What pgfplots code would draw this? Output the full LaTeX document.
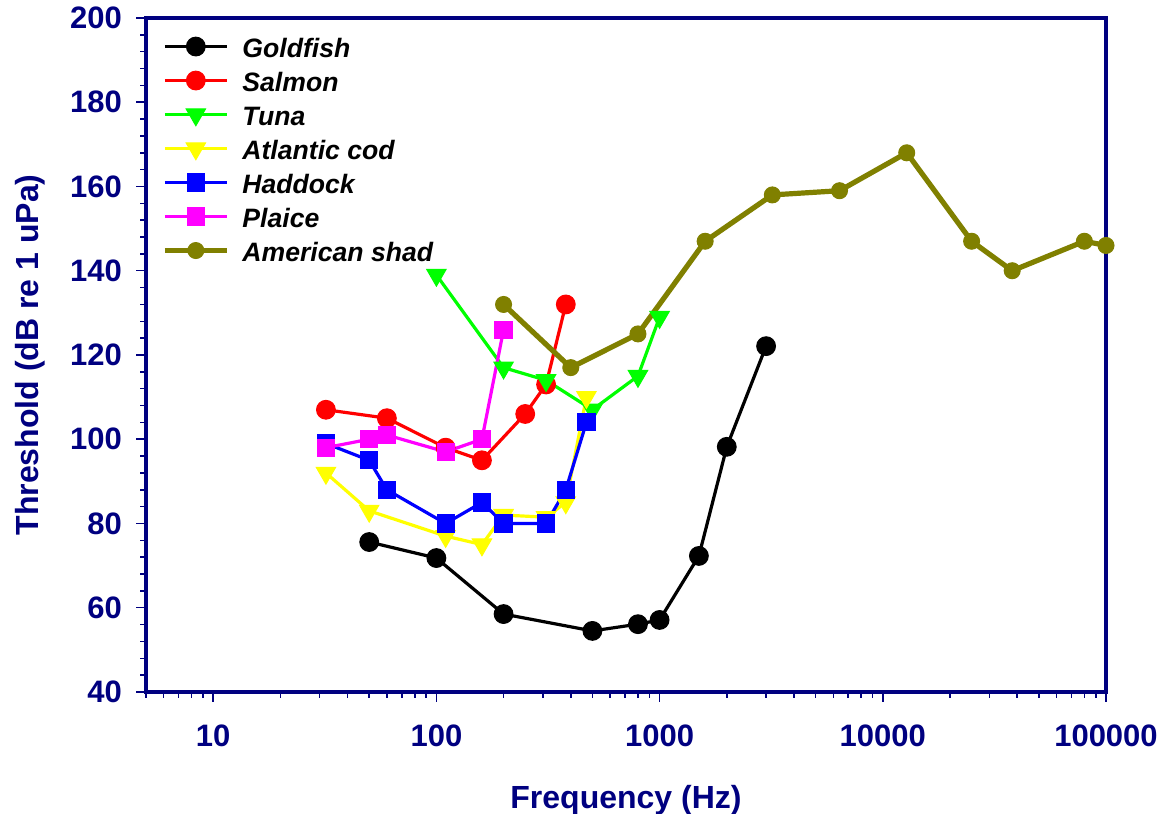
\documentclass[border=0pt]{standalone}
\usepackage{pgfplots}
\pgfplotsset{compat=1.18}
\usepackage{fontspec}
\setmainfont{Liberation Sans}
\definecolor{navyc}{RGB}{0,0,128}
\definecolor{olivec}{RGB}{128,128,0}
\definecolor{limec}{RGB}{0,255,0}
\definecolor{yelc}{RGB}{255,255,0}
\definecolor{magc}{RGB}{255,0,255}
\definecolor{bluec}{RGB}{0,0,255}
\definecolor{redc}{RGB}{255,0,0}
\begin{document}
\begin{tikzpicture}
\useasboundingbox (0,0) rectangle (584.5pt,407pt);
\begin{axis}[
  at={(73pt,61pt)}, anchor=south west,
  scale only axis, width=480pt, height=337pt,
  xmode=log, log basis x=10,
  xmin=5, xmax=100000, ymin=40, ymax=200,
  clip=false,
  xtick={10,100,1000,10000,100000},
  xticklabels={10,100,1000,10000,100000},
  minor xtick={5,6,7,8,9,20,30,40,50,60,70,80,90,200,300,400,500,600,700,800,900,2000,3000,4000,5000,6000,7000,8000,9000,20000,30000,40000,50000,60000,70000,80000,90000},
  ytick={40,60,...,200},
  minor y tick num=4,
  tick align=outside,
  xtick pos=bottom, ytick pos=left,
  major tick length=5pt, minor tick length=2.8pt,
  every tick/.style={navyc, line width=0.75pt},
  axis line style={draw=navyc, line width=2pt},
  /pgf/number format/assume math mode=true,
  ticklabel style={font=\fontsize{15.5}{18}\selectfont\bfseries, text=navyc},
  xticklabel style={yshift=-8pt},
  yticklabel style={xshift=-3.5pt},
  xlabel={Frequency (Hz)},
  ylabel={Threshold (dB re 1 uPa)},
  label style={font=\fontsize{16}{19}\selectfont\bfseries, text=navyc},
  xlabel style={at={(axis description cs:0.5,-0.16)}, anchor=center},
  ylabel style={at={(axis description cs:-0.121,0.5)}, anchor=center, rotate=0},
  legend style={at={(axis description cs:0.0165,0.982)}, anchor=north west,
    draw=none, fill=none, inner sep=0pt, row sep=1pt, column sep=6.5pt,
    font=\fontsize{13.3}{15}\selectfont\bfseries\itshape,
    nodes={inner sep=0pt, text height=13.5pt, text depth=2.5pt}},
  legend cell align=left,
  legend image code/.code={\draw[mark repeat=2,mark phase=2] plot coordinates {(0pt,0pt) (15.5pt,0pt) (31pt,0pt)};},
]
\addplot[black, line width=1.6pt, mark=*, mark size=4.7pt, mark options={solid, line width=0.5pt, fill=black}]
 coordinates {(50,75.6) (100,71.8) (200,58.5) (500,54.5) (800,56.1) (1000,57.1) (1500,72.3) (2000,98.2) (3000,122.1)};
\addlegendentry{Goldfish}
\addplot[redc, line width=1.6pt, mark=*, mark size=4.7pt, mark options={solid, line width=0.5pt, fill=redc}]
 coordinates {(32,107) (60,105) (110,98) (160,95) (250,106) (310,113) (380,132)};
\addlegendentry{Salmon}
\addplot[limec, line width=1.6pt, mark=triangle*, mark size=5.6pt, mark options={solid, rotate=180, line width=0.5pt, fill=limec}]
 coordinates {(100,139) (200,117) (310,114) (500,107) (800,115) (1000,129)};
\addlegendentry{Tuna}
\addplot[yelc, line width=1.6pt, mark=triangle*, mark size=5.6pt, mark options={solid, rotate=180, line width=0.5pt, fill=yelc}]
 coordinates {(32,92) (50,83) (110,77) (160,75) (200,82) (310,81.5) (380,85) (470,110)};
\addlegendentry{Atlantic cod}
\addplot[bluec, line width=1.6pt, mark=square*, mark size=4.3pt, mark options={solid, line width=0.5pt, fill=bluec}]
 coordinates {(32,99) (50,95) (60,88) (110,80) (160,85) (200,80) (310,80) (380,88) (470,104)};
\addlegendentry{Haddock}
\addplot[magc, line width=1.6pt, mark=square*, mark size=4.3pt, mark options={solid, line width=0.5pt, fill=magc}]
 coordinates {(32,98) (50,100) (60,101) (110,97) (160,100) (200,126)};
\addlegendentry{Plaice}
\addplot[olivec, line width=2.6pt, mark=*, mark size=4.0pt, mark options={solid, line width=0.5pt, fill=olivec}]
 coordinates {(200,132) (400,117) (800,125) (1600,147) (3200,158) (6400,159) (12800,168) (25000,147) (38000,140) (80000,147) (100000,146)};
\addlegendentry{American shad}
\end{axis}
\end{tikzpicture}
\end{document}
